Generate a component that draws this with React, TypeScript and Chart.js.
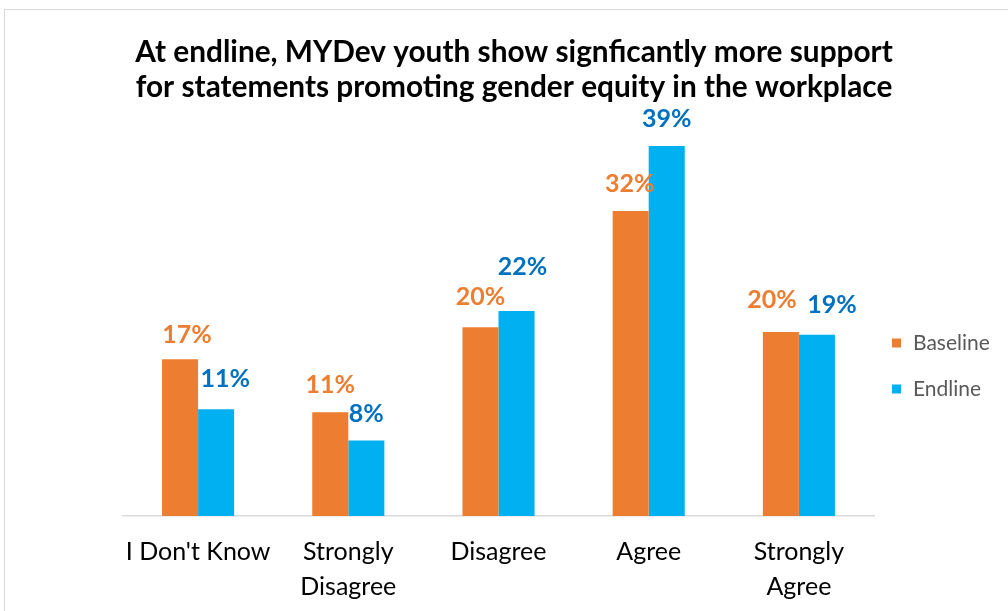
import React, { useEffect, useRef } from 'react';
import { Chart, registerables } from 'chart.js';

Chart.register(...registerables);

const categories: string[][] = [["I Don't Know"], ['Strongly', 'Disagree'], ['Disagree'], ['Agree'], ['Strongly', 'Agree']];
const seriesNames = ['Baseline', 'Endline'];
const baselineValues = [16.6, 11.0, 20.0, 32.3, 19.5];
const endlineValues = [11.3, 8.0, 21.7, 39.2, 19.2];
const titleLines = [
  'At endline, MYDev youth show signficantly more support',
  'for statements promoting gender equity in the workplace',
];

const FONT = 'Lato, "Open Sans", sans-serif';
const barColors = ['#ED7D31', '#00B0F0'];
const labelColors = ['#ED7D31', '#0070C0'];

// label nudges [dx, gap above bar top to baseline]
const labelOffsets = [
  [[7, 16], [0, 19], [0, 22], [-1, 19], [-9, 24]],
  [[9, 22], [0, 18], [6, 36], [0, 19], [15, 22]],
];

const barLabelPlugin = {
  id: 'barLabels',
  afterDatasetsDraw(chart: any) {
    const ctx = chart.ctx;
    chart.data.datasets.forEach((ds: any, di: number) => {
      const meta = chart.getDatasetMeta(di);
      meta.data.forEach((bar: any, i: number) => {
        const v = ds.data[i] as number;
        const off = labelOffsets[di][i];
        ctx.save();
        ctx.font = `bold 25px ${FONT}`;
        ctx.fillStyle = labelColors[di];
        ctx.textAlign = 'center';
        ctx.textBaseline = 'alphabetic';
        ctx.fillText(`${Math.round(v)}%`, bar.x + off[0], bar.y - off[1]);
        ctx.restore();
      });
    });
  },
};

const sideLegendPlugin = {
  id: 'sideLegend',
  afterDraw(chart: any) {
    const ctx = chart.ctx;
    const area = chart.chartArea;
    const n = chart.data.datasets.length;
    const spacing = 46;
    const centerY = (area.top + area.bottom) / 2 + 53;
    const startY = centerY - ((n - 1) * spacing) / 2;
    const boxX = area.right + 18;
    chart.data.datasets.forEach((ds: any, di: number) => {
      const y = startY + di * spacing;
      ctx.save();
      ctx.fillStyle = ds.backgroundColor;
      ctx.fillRect(boxX, y - 4.5, 9, 9);
      ctx.fillStyle = '#595959';
      ctx.font = `21px ${FONT}`;
      ctx.textAlign = 'left';
      ctx.textBaseline = 'middle';
      ctx.fillText(ds.label, boxX + 21, y);
      ctx.restore();
    });
  },
};

export default function App() {
  const ref = useRef<HTMLCanvasElement | null>(null);

  useEffect(() => {
    if (!ref.current) return;
    const chart = new Chart(ref.current, {
      type: 'bar',
      data: {
        labels: categories,
        datasets: [
          {
            label: seriesNames[0],
            data: baselineValues,
            backgroundColor: barColors[0],
            categoryPercentage: 0.48,
            barPercentage: 1.0,
            borderWidth: 0,
            yAxisID: 'y',
          },
          {
            label: seriesNames[1],
            data: endlineValues,
            backgroundColor: barColors[1],
            categoryPercentage: 0.48,
            barPercentage: 1.0,
            borderWidth: 0,
            yAxisID: 'y',
          },
        ],
      },
      options: {
        responsive: false,
        animation: false,
        layout: { padding: { left: 20, right: 0, top: 10, bottom: 0 } },
        plugins: {
          legend: { display: false },
          tooltip: { enabled: false },
          title: {
            display: true,
            text: titleLines,
            color: '#000000',
            font: { family: FONT, size: 29.8, weight: 'bold', lineHeight: 35 / 29.8 },
            padding: { top: 25, bottom: 5 },
          },
        },
        scales: {
          x: {
            grid: { display: false, drawTicks: false },
            border: { display: true, color: '#d9d9d9', width: 1.5 },
            ticks: {
              color: '#000000',
              font: { family: FONT, size: 25, lineHeight: 35 / 25 },
              padding: 18,
              maxRotation: 0,
              autoSkip: false,
            },
            afterFit: (s: any) => {
              s.height = 95;
            },
          },
          y: {
            min: 0,
            max: 43,
            grid: { display: false, drawTicks: false },
            border: { display: false },
            ticks: { display: false },
            afterFit: (s: any) => {
              s.width = 103;
            },
          },
          y2: {
            position: 'right',
            min: 0,
            max: 1,
            grid: { display: false, drawTicks: false },
            border: { display: false },
            ticks: { display: false },
            afterFit: (s: any) => {
              s.width = 134;
            },
          },
        },
      } as any,
      plugins: [barLabelPlugin, sideLegendPlugin],
    });
    return () => chart.destroy();
  }, []);

  return (
    <div style={{ position: 'fixed', left: 0, top: 0, width: 1008, height: 611, overflow: 'hidden', background: '#fff' }}>
      <div
        style={{
          position: 'absolute',
          left: 4,
          top: 9,
          width: 1100,
          height: 700,
          border: '1px solid #d9d9d9',
          boxSizing: 'border-box',
        }}
      />
      <canvas ref={ref} width={1008} height={611} style={{ position: 'absolute', left: 0, top: 0 }} />
    </div>
  );
}
